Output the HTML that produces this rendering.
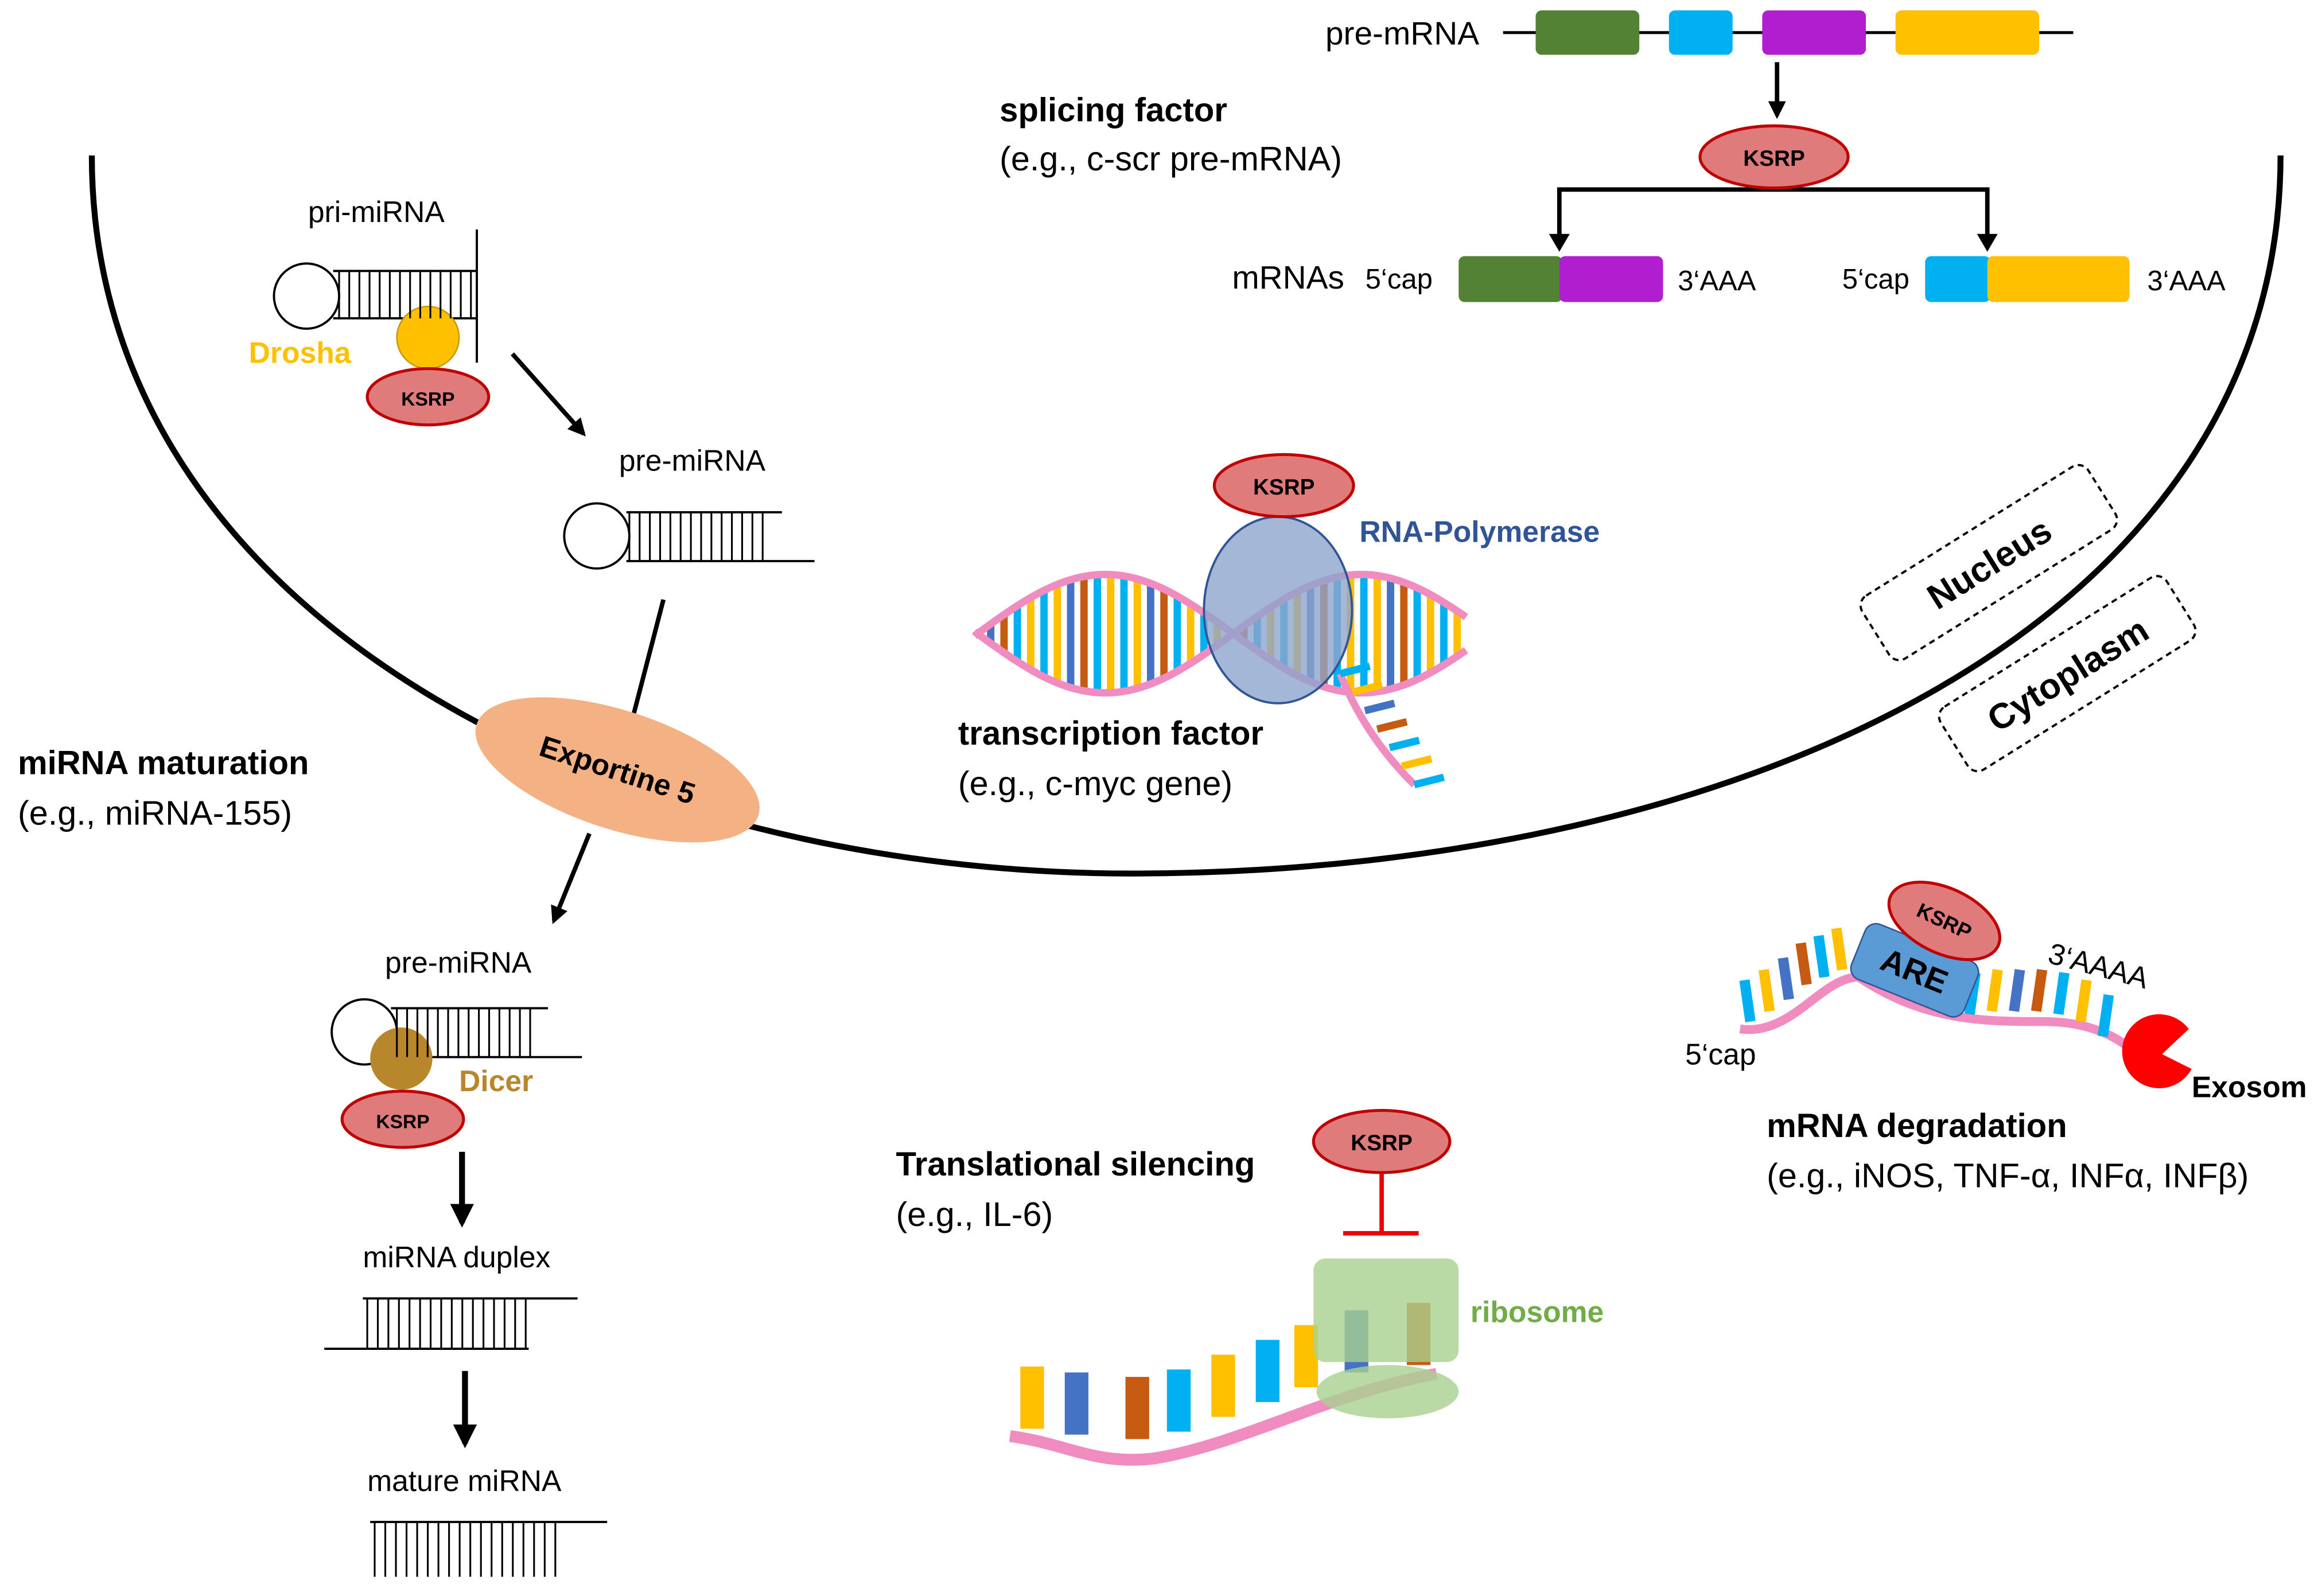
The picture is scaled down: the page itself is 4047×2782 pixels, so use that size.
<!DOCTYPE html>
<html><head><meta charset="utf-8"><style>
html,body{margin:0;padding:0;background:#fff}
svg{display:block}
text{font-family:"Liberation Sans",sans-serif}
</style></head><body>
<svg id="s" width="4047" height="2782" viewBox="0 0 1568 1078" preserveAspectRatio="none" xmlns="http://www.w3.org/2000/svg">
<defs>
<marker id="ar" viewBox="0 0 10 10" refX="8" refY="5" markerWidth="4" markerHeight="4" orient="auto"><path d="M0,0L10,5L0,10z" fill="#000"/></marker>
</defs>
<rect width="1568" height="1078" fill="#fff"/>
<path d="M62,105 C62,420 420,592 770,590 C1180,588 1540,420 1540,105" fill="none" stroke="#000" stroke-width="4"/>

<text x="895" y="30" font-size="22">pre-mRNA</text>
<line x1="1015" y1="22" x2="1400" y2="22" stroke="#000" stroke-width="2"/>
<rect x="1037" y="7" width="70" height="30" rx="4" fill="#548235"/>
<rect x="1127" y="7" width="43" height="30" rx="4" fill="#00b0f0"/>
<rect x="1190" y="7" width="70" height="30" rx="4" fill="#b01ed0"/>
<rect x="1280" y="7" width="97" height="30" rx="4" fill="#ffc000"/>
<line x1="1200" y1="42" x2="1200" y2="78" stroke="#000" stroke-width="3" marker-end="url(#ar)"/>
<text x="675" y="82" font-size="22.5" font-weight="bold">splicing factor</text>
<text x="675" y="115" font-size="23">(e.g., c-scr pre-mRNA)</text>
<path d="M1053,166 V128 H1342 V166" fill="none" stroke="#000" stroke-width="3"/>
<path d="M1046,158 L1053,170 L1060,158z M1335,158 L1342,170 L1349,158z" fill="#000"/>
<ellipse cx="1198" cy="106" rx="50" ry="21" fill="#e07b7b" stroke="#c00000" stroke-width="2"/>
<text x="1198" y="112" font-size="15" font-weight="bold" text-anchor="middle">KSRP</text>
<text x="832" y="195" font-size="22">mRNAs</text>
<text x="922" y="195" font-size="19">5‘cap</text>
<rect x="985" y="173" width="70" height="31" rx="4" fill="#548235"/>
<rect x="1053" y="173" width="70" height="31" rx="4" fill="#b01ed0"/>
<text x="1133" y="196" font-size="19">3‘AAA</text>
<text x="1244" y="195" font-size="19">5‘cap</text>
<rect x="1300" y="173" width="44" height="31" rx="4" fill="#00b0f0"/>
<rect x="1342" y="173" width="96" height="31" rx="4" fill="#ffc000"/>
<text x="1450" y="196" font-size="19">3‘AAA</text>

<text x="208" y="150" font-size="20">pri-miRNA</text>
<circle cx="207" cy="200" r="22" fill="#fff" stroke="#000" stroke-width="1.5"/>
<line x1="225" y1="183" x2="322" y2="183" stroke="#000" stroke-width="1.5"/>
<line x1="225" y1="215" x2="322" y2="215" stroke="#000" stroke-width="1.5"/>
<line x1="322" y1="155" x2="322" y2="245" stroke="#000" stroke-width="1.5"/>
<circle cx="289" cy="228" r="21" fill="#ffc000" stroke="#c89a00"/>
<text x="168" y="245" font-size="20" font-weight="bold" fill="#ffc000">Drosha</text>
<ellipse cx="289" cy="268" rx="41" ry="19" fill="#e07b7b" stroke="#c00000" stroke-width="2"/>
<text x="289" y="274" font-size="13" font-weight="bold" text-anchor="middle">KSRP</text>
<line x1="346" y1="239" x2="394" y2="293" stroke="#000" stroke-width="3" marker-end="url(#ar)"/>

<text x="418" y="318" font-size="20">pre-miRNA</text>
<circle cx="403" cy="362" r="22" fill="#fff" stroke="#000" stroke-width="1.5"/>
<line x1="423" y1="346" x2="528" y2="346" stroke="#000" stroke-width="1.5"/>
<line x1="423" y1="379" x2="550" y2="379" stroke="#000" stroke-width="1.5"/>
<line x1="448" y1="405" x2="428" y2="482" stroke="#000" stroke-width="3"/>
<ellipse cx="417" cy="520" rx="100" ry="40" transform="rotate(18 417 520)" fill="#f4b183"/>
<text x="417" y="527" font-size="20" font-weight="bold" text-anchor="middle" transform="rotate(18 417 520)">Exportine 5</text>
<line x1="398" y1="563" x2="374" y2="622" stroke="#000" stroke-width="3" marker-end="url(#ar)"/>
<text x="12" y="523" font-size="22.5" font-weight="bold">miRNA maturation</text>
<text x="12" y="557" font-size="23">(e.g., miRNA-155)</text>

<text x="260" y="657" font-size="20">pre-miRNA</text>
<circle cx="246" cy="697" r="22" fill="#fff" stroke="#000" stroke-width="1.5"/>
<line x1="264" y1="681" x2="370" y2="681" stroke="#000" stroke-width="1.5"/>
<line x1="264" y1="714" x2="393" y2="714" stroke="#000" stroke-width="1.5"/>
<circle cx="271" cy="715" r="21" fill="#b8862b"/>
<text x="310" y="737" font-size="20" font-weight="bold" fill="#b8862b">Dicer</text>
<ellipse cx="272" cy="756" rx="41" ry="19" fill="#e07b7b" stroke="#c00000" stroke-width="2"/>
<text x="272" y="762" font-size="13" font-weight="bold" text-anchor="middle">KSRP</text>
<line x1="312" y1="778" x2="312" y2="826" stroke="#000" stroke-width="4" marker-end="url(#ar)"/>
<text x="245" y="856" font-size="20">miRNA duplex</text>
<line x1="245" y1="877" x2="390" y2="877" stroke="#000" stroke-width="1.5"/>
<line x1="219" y1="911" x2="357" y2="911" stroke="#000" stroke-width="1.5"/>
<line x1="314" y1="926" x2="314" y2="975" stroke="#000" stroke-width="4" marker-end="url(#ar)"/>
<text x="248" y="1007" font-size="20">mature miRNA</text>
<line x1="250" y1="1028" x2="410" y2="1028" stroke="#000" stroke-width="1.5"/>
<g id="ladders" stroke="#000" stroke-width="1.2"></g>

<g id="dna"></g>
<ellipse cx="863" cy="412" rx="50" ry="63" fill="#8ea5cc" fill-opacity="0.8" stroke="#2f5597" stroke-width="1.5"/>
<ellipse cx="867" cy="328" rx="47" ry="21" fill="#e07b7b" stroke="#c00000" stroke-width="2"/>
<text x="867" y="334" font-size="15" font-weight="bold" text-anchor="middle">KSRP</text>
<text x="918" y="366" font-size="20" font-weight="bold" fill="#2f5597">RNA-Polymerase</text>
<text x="647" y="503" font-size="22.5" font-weight="bold">transcription factor</text>
<text x="647" y="537" font-size="23">(e.g., c-myc gene)</text>

<g transform="rotate(-32 1343 380)"><rect x="1253" y="355" width="180" height="50" rx="8" fill="none" stroke="#000" stroke-width="1.5" stroke-dasharray="4 3"/><text x="1343" y="389" font-size="24" font-weight="bold" text-anchor="middle">Nucleus</text></g>
<g transform="rotate(-32 1396 455)"><rect x="1306" y="430" width="180" height="50" rx="8" fill="none" stroke="#000" stroke-width="1.5" stroke-dasharray="4 3"/><text x="1396" y="464" font-size="24" font-weight="bold" text-anchor="middle">Cytoplasm</text></g>

<g id="deg"></g>
<g transform="rotate(22 1292 655)"><rect x="1252" y="635" width="82" height="40" rx="8" fill="#5b9bd5" stroke="#2f5597"/><text x="1293" y="663" font-size="22" font-weight="bold" text-anchor="middle">ARE</text></g>
<ellipse cx="1313" cy="622" rx="40" ry="22" transform="rotate(25 1313 622)" fill="#e07b7b" stroke="#c00000" stroke-width="2"/>
<text x="1313" y="627" font-size="14" font-weight="bold" text-anchor="middle" transform="rotate(25 1313 622)">KSRP</text>
<text x="1382" y="650" font-size="20" transform="rotate(15 1382 650)">3‘AAAA</text>
<text x="1138" y="719" font-size="20">5‘cap</text>
<path d="M1460,712 L1478,695 A25,25 0 1 0 1480,722 Z" fill="#ff0000"/>
<text x="1480" y="741" font-size="20" font-weight="bold">Exosom</text>
<text x="1193" y="768" font-size="22.5" font-weight="bold">mRNA degradation</text>
<text x="1193" y="802" font-size="23">(e.g., iNOS, TNF-α, INFα, INFβ)</text>

<text x="605" y="794" font-size="22.5" font-weight="bold">Translational silencing</text>
<text x="605" y="828" font-size="23">(e.g., IL-6)</text>
<ellipse cx="933" cy="771" rx="46" ry="21" fill="#e07b7b" stroke="#c00000" stroke-width="2"/>
<text x="933" y="777" font-size="15" font-weight="bold" text-anchor="middle">KSRP</text>
<line x1="933" y1="793" x2="933" y2="833" stroke="#e00" stroke-width="3"/>
<line x1="907" y1="833" x2="958" y2="833" stroke="#e00" stroke-width="3"/>
<g id="tr"></g>
<rect x="887" y="850" width="98" height="70" rx="8" fill="#a9d18e" fill-opacity="0.8"/>
<ellipse cx="937" cy="940" rx="48" ry="18" fill="#a9d18e" fill-opacity="0.8"/>
<text x="993" y="893" font-size="20" font-weight="bold" fill="#70ad47">ribosome</text>
</svg>
<script>
var NS="http://www.w3.org/2000/svg";
function el(p,t,a){var e=document.createElementNS(NS,t);for(var k in a)e.setAttribute(k,a[k]);document.getElementById(p).appendChild(e);return e;}
function lad(x1,x2,y1,y2,n){for(var i=0;i<n;i++){var x=x1+(x2-x1)*i/(n-1);el("ladders","line",{x1:x,x2:x,y1:y1,y2:y2});}}
lad(229,318,183,215,14);lad(425,515,346,379,14);lad(268,358,681,714,14);lad(248,355,877,911,16);lad(253,375,1028,1065,18);
var cols=["#00b0f0","#ffc000","#4472c4","#c55a11","#00b0f0","#ffc000"];
for(var x=660;x<=990;x+=9){var a=Math.sin((x-660)/55);var y1=428-38*a,y2=428+38*a;el("dna","line",{x1:x,x2:x,y1:y1,y2:y2,stroke:cols[(x/9|0)%6],"stroke-width":5});}
var d1="",d2="";for(var x=658;x<=992;x+=4){var a=Math.sin((x-660)/55);d1+=(x==658?"M":"L")+x+","+(428-40*a);d2+=(x==658?"M":"L")+x+","+(428+40*a);}
el("dna","path",{d:d1,fill:"none",stroke:"#f08cc0","stroke-width":5});el("dna","path",{d:d2,fill:"none",stroke:"#f08cc0","stroke-width":5});
el("dna","path",{d:"M905,455 C915,480 930,505 955,530",fill:"none",stroke:"#f08cc0","stroke-width":5});
for(var i=0;i<7;i++){var t=i/6;el("dna","line",{x1:905+50*t,y1:455+75*t,x2:925+50*t,y2:450+75*t,stroke:cols[i%6],"stroke-width":5});}
el("deg","path",{d:"M1175,695 C1210,700 1230,660 1255,660 C1300,690 1340,690 1380,690 C1410,690 1430,700 1440,710",fill:"none",stroke:"#f08cc0","stroke-width":6});
var pts=[[1182,690],[1195,683],[1208,675],[1220,665],[1232,660],[1244,655],[1330,685],[1345,683],[1360,683],[1375,683],[1390,685],[1405,690],[1420,700]];
pts.forEach(function(p,i){el("deg","line",{x1:p[0],y1:p[1],x2:p[0]+(i<6?-4:4),y2:p[1]-28,stroke:cols[i%6],"stroke-width":7});});
el("tr","path",{d:"M682,970 C720,975 740,990 780,985 C840,975 900,940 970,928",fill:"none",stroke:"#f08cc0","stroke-width":8});
var tp=[[697,968],[727,972],[768,975],[796,970],[826,960],[856,950],[882,940],[916,930],[958,925]];
tp.forEach(function(p,i){el("tr","rect",{x:p[0]-8,y:p[1]-45,width:16,height:42,fill:cols[(i+1)%6]});});
</script>
</body></html>
